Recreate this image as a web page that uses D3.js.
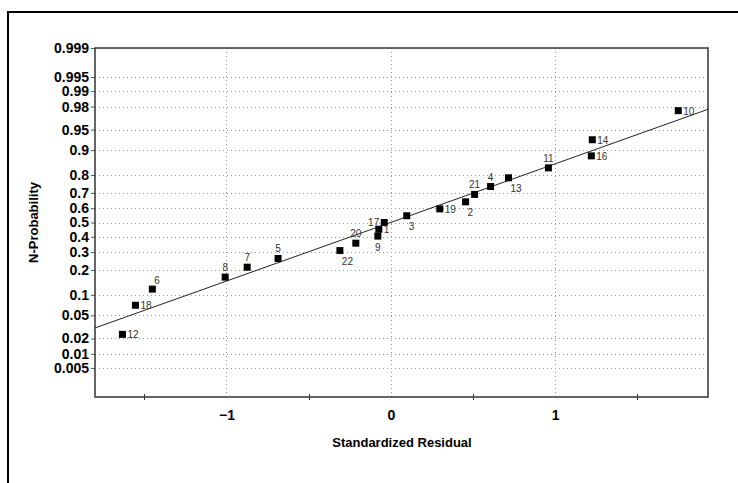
<!DOCTYPE html>
<html>
<head>
<meta charset="utf-8">
<script src="https://cdn.jsdelivr.net/npm/d3@7"></script>
<style>
  body { margin: 0; background: #fff; }
  svg { display: block; font-family: "Liberation Sans", Arial, sans-serif; }
</style>
</head>
<body>
<script>
// observations, sorted by residual
ids = [12, 18, 6, 8, 7, 5, 22, 20, 9, 1, 17, 3, 19, 2, 21, 4, 13, 11, 16, 14, 10]
residuals = [-1.633, -1.554, -1.451, -1.008, -0.874, -0.686, -0.31, -0.213, -0.079, -0.073, -0.04,
  0.097, 0.298, 0.455, 0.51, 0.607, 0.716, 0.959, 1.22, 1.226, 1.749]
probs = [0.0238, 0.0714, 0.1190, 0.1667, 0.2143, 0.2619, 0.3095, 0.3571, 0.4048, 0.4524, 0.5000,
  0.5476, 0.5952, 0.6429, 0.6905, 0.7381, 0.7857, 0.8333, 0.8810, 0.9286, 0.9762]
// where each point's number sits
labelPos = ["r", "r", "tr", "t", "t", "t", "br", "t", "b", "r", "l",
  "br", "r", "br", "t", "t", "br", "t", "r", "r", "r"]

// reference line ends
fitX = [-1.8, 1.93]
fitP = [0.0309, 0.9775]

yTickValues = [0.005, 0.01, 0.02, 0.05, 0.1, 0.2, 0.3, 0.4, 0.5, 0.6, 0.7, 0.8, 0.9, 0.95, 0.98, 0.99, 0.995, 0.999]
yTickLabels = ["0.005", "0.01", "0.02", "0.05", "0.1", "0.2", "0.3", "0.4", "0.5", "0.6", "0.7", "0.8", "0.9", "0.95", "0.98", "0.99", "0.995", "0.999"]
xTickValues = [-1, 0, 1]
xMinorTicks = [-1.5, -0.5, 0.5, 1.5]

width = 738
height = 483
margin = ({top: 48, right: 30, bottom: 86, left: 95})

// inverse normal cdf (Acklam)
function probit(p) {
  const a = [-39.69683028665376, 220.9460984245205, -275.9285104469687, 138.3577518672690, -30.66479806614716, 2.506628277459239]
  const b = [-54.47609879822406, 161.5858368580409, -155.6989798598866, 66.80131188771972, -13.28068155288572]
  const c = [-0.007784894002430293, -0.3223964580411365, -2.400758277161838, -2.549732539343734, 4.374664141464968, 2.938163982698783]
  const d = [0.007784695709041462, 0.3224671290700398, 2.445134137142996, 3.754408661907416]
  const pl = 0.02425
  let q, r
  if (p < pl) {
    q = Math.sqrt(-2 * Math.log(p))
    return (((((c[0]*q+c[1])*q+c[2])*q+c[3])*q+c[4])*q+c[5]) / ((((d[0]*q+d[1])*q+d[2])*q+d[3])*q+1)
  }
  if (p > 1 - pl) {
    q = Math.sqrt(-2 * Math.log(1 - p))
    return -(((((c[0]*q+c[1])*q+c[2])*q+c[3])*q+c[4])*q+c[5]) / ((((d[0]*q+d[1])*q+d[2])*q+d[3])*q+1)
  }
  q = p - 0.5
  r = q * q
  return (((((a[0]*r+a[1])*r+a[2])*r+a[3])*r+a[4])*r+a[5])*q / (((((b[0]*r+b[1])*r+b[2])*r+b[3])*r+b[4])*r+1)
}

data = ids.map((id, i) => ({id: id, x: residuals[i], p: probs[i], pos: labelPos[i]}))

x = d3.scaleLinear()
  .domain([-1.8, 1.93])
  .range([margin.left, width - margin.right])

zMax = probit(0.999)
yz = d3.scaleLinear()
  .domain([-zMax, zMax])
  .range([height - margin.bottom, margin.top])
y = p => yz(probit(p))

const svg = d3.select("body").append("svg")
  .attr("width", width)
  .attr("height", height)

// outer frame
svg.append("rect")
  .attr("x", 8).attr("y", 12)
  .attr("width", 800).attr("height", 600)
  .attr("fill", "none")
  .attr("stroke", "#000")
  .attr("stroke-width", 2)

// grid
const grid = svg.append("g")
  .attr("stroke", "#9a9a9a")
  .attr("stroke-dasharray", "1,3")
  .attr("shape-rendering", "crispEdges")

grid.selectAll(".hg")
  .data(yTickValues)
  .join("line")
  .attr("x1", margin.left).attr("x2", width - margin.right)
  .attr("y1", d => Math.round(y(d)) + 0.5).attr("y2", d => Math.round(y(d)) + 0.5)

grid.selectAll(".vg")
  .data(xTickValues)
  .join("line")
  .attr("y1", margin.top).attr("y2", height - margin.bottom)
  .attr("x1", d => Math.round(x(d)) + 0.5).attr("x2", d => Math.round(x(d)) + 0.5)

// y axis
yAxis = g => g
  .attr("transform", `translate(${margin.left},0)`)
  .call(d3.axisLeft(yz)
    .tickValues(yTickValues.map(probit))
    .tickFormat((d, i) => yTickLabels[i])
    .tickSize(4).tickPadding(2))
  .call(g => g.select(".domain").remove())
  .call(g => g.selectAll(".tick line").attr("stroke", "#555"))
  .call(g => g.selectAll(".tick text")
    .attr("font-size", 14).attr("font-weight", "bold")
    .attr("fill", "#000").attr("font-family", "Liberation Sans, Arial, sans-serif"))

svg.append("g").call(yAxis)

// x axis
xAxis = g => g
  .attr("transform", `translate(0,${height - margin.bottom})`)
  .call(d3.axisBottom(x).tickValues(xTickValues).tickFormat(d3.format("d")).tickSize(0).tickPadding(13))
  .call(g => g.select(".domain").remove())
  .call(g => g.selectAll(".tick text")
    .attr("font-size", 14).attr("font-weight", "bold")
    .attr("fill", "#000").attr("font-family", "Liberation Sans, Arial, sans-serif"))

svg.append("g").call(xAxis)

svg.append("g")
  .attr("stroke", "#333")
  .selectAll("line")
  .data(xMinorTicks)
  .join("line")
  .attr("x1", d => Math.round(x(d)) + 0.5).attr("x2", d => Math.round(x(d)) + 0.5)
  .attr("y1", height - margin.bottom - 3).attr("y2", height - margin.bottom + 3)

// plot border
svg.append("rect")
  .attr("x", margin.left).attr("y", margin.top)
  .attr("width", width - margin.right - margin.left)
  .attr("height", height - margin.bottom - margin.top)
  .attr("fill", "none")
  .attr("stroke", "#404040")
  .attr("stroke-width", 1.6)

// reference line
svg.append("line")
  .attr("x1", x(fitX[0])).attr("y1", y(fitP[0]))
  .attr("x2", x(fitX[1])).attr("y2", y(fitP[1]))
  .attr("stroke", "#222")
  .attr("stroke-width", 1)

// points
svg.append("g")
  .attr("fill", "#000")
  .selectAll("rect")
  .data(data)
  .join("rect")
  .attr("x", d => x(d.x) - 3.5)
  .attr("y", d => y(d.p) - 3.5)
  .attr("width", 7).attr("height", 7)

const off = {
  r: [5, 4, "start"], l: [-5, 3, "end"], t: [0, -6, "middle"], b: [0, 15, "middle"],
  tr: [2, -5, "start"], br: [2, 14, "start"]
}

svg.append("g")
  .attr("font-size", 10)
  .attr("fill", "#333")
  .selectAll("text")
  .data(data)
  .join("text")
  .attr("x", d => x(d.x) + off[d.pos][0])
  .attr("y", d => y(d.p) + off[d.pos][1])
  .attr("text-anchor", d => off[d.pos][2])
  .text(d => d.id)

// axis titles
svg.append("text")
  .attr("x", (margin.left + width - margin.right) / 2 + 0.5)
  .attr("y", 447)
  .attr("text-anchor", "middle")
  .attr("font-size", 13).attr("font-weight", "bold")
  .text("Standardized Residual")

svg.append("text")
  .attr("transform", `translate(38,${(margin.top + height - margin.bottom) / 2}) rotate(-90)`)
  .attr("text-anchor", "middle")
  .attr("font-size", 13).attr("font-weight", "bold")
  .text("N-Probability")
</script>
</body>
</html>
